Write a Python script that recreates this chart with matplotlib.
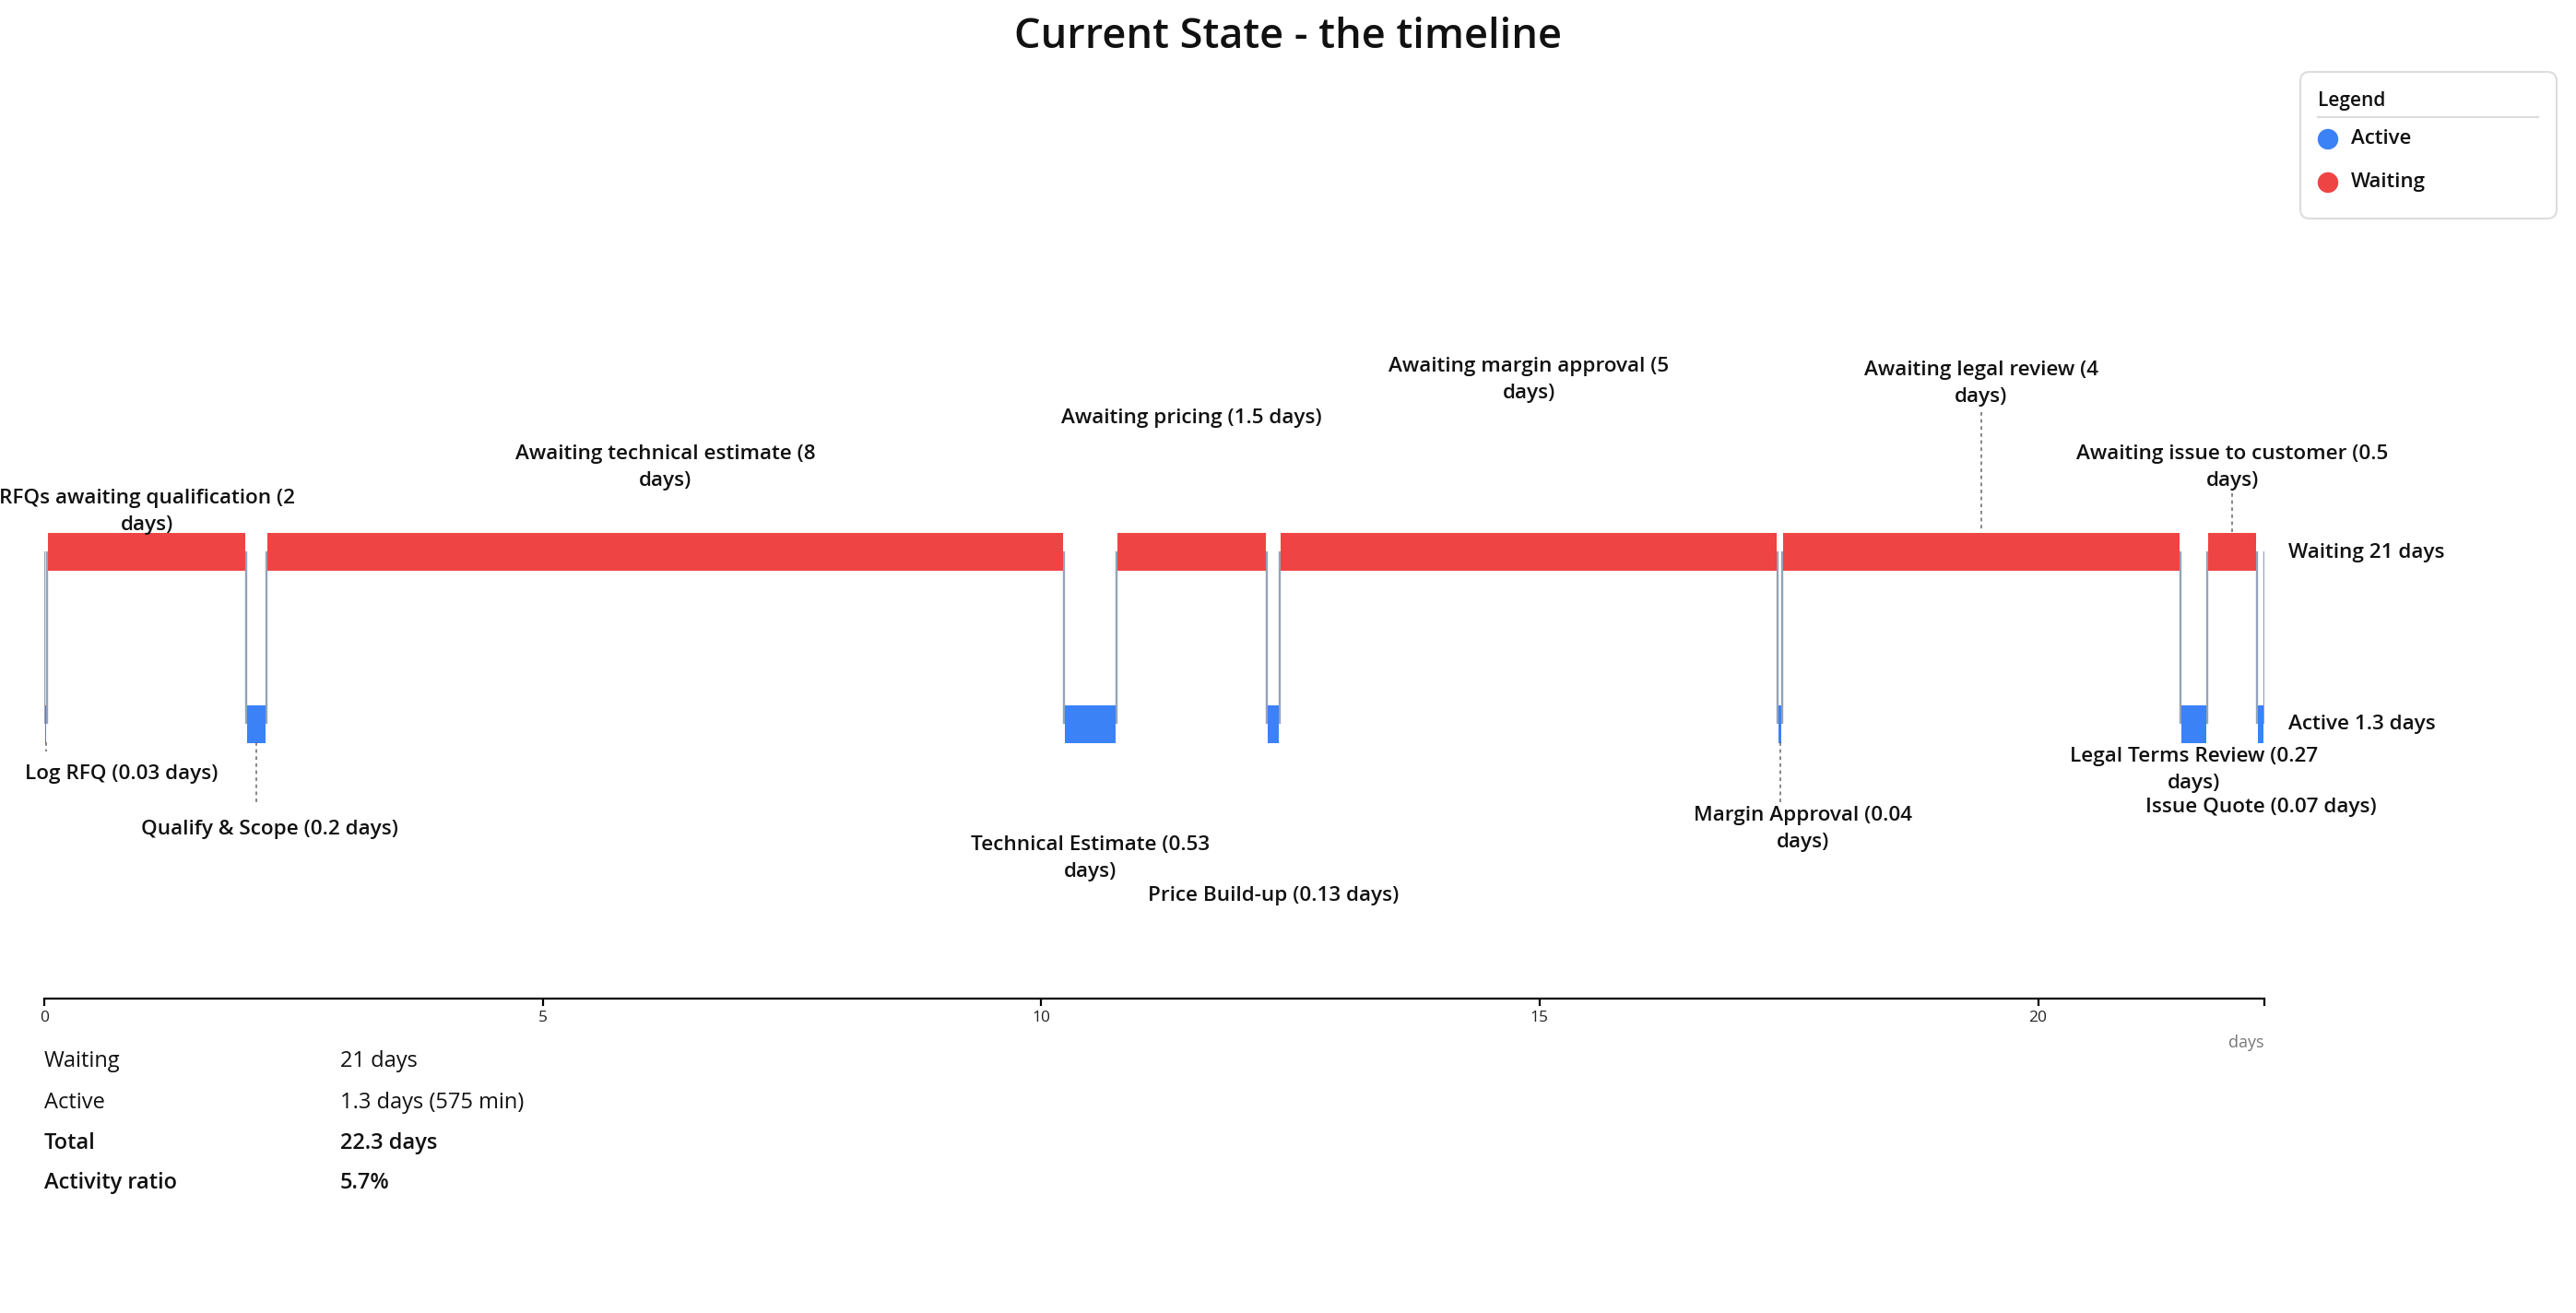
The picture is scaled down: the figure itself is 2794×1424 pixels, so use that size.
import matplotlib
matplotlib.use("Agg")
import matplotlib.pyplot as plt
from matplotlib.patches import FancyBboxPatch
import numpy as np

# ---------------- data ----------------
step_names = ["Log RFQ", "RFQs awaiting qualification", "Qualify & Scope",
              "Awaiting technical estimate", "Technical Estimate", "Awaiting pricing",
              "Price Build-up", "Awaiting margin approval", "Margin Approval",
              "Awaiting legal review", "Legal Terms Review",
              "Awaiting issue to customer", "Issue Quote"]
step_kinds = ["Active", "Waiting", "Active", "Waiting", "Active", "Waiting", "Active",
              "Waiting", "Active", "Waiting", "Active", "Waiting", "Active"]
step_days = [0.03, 2, 0.2, 8, 0.53, 1.5, 0.13, 5, 0.04, 4, 0.27, 0.5, 0.07]
step_day_labels = ["0.03", "2", "0.2", "8", "0.53", "1.5", "0.13", "5", "0.04", "4",
                   "0.27", "0.5", "0.07"]
lane_labels = {"Waiting": "Waiting 21 days", "Active": "Active 1.3 days"}
summary_names = ["Waiting", "Active", "Total", "Activity ratio"]
summary_values = ["21 days", "1.3 days (575 min)", "22.3 days", "5.7%"]
summary_bold = [False, False, True, True]
x_ticks = [0, 5, 10, 15, 20]
legend_items = ["Active", "Waiting"]
title = "Current State - the timeline"
axis_unit = "days"

# ---------------- layout / style ----------------
W, H = 2794, 1424
plt.rcParams["font.family"] = ["Open Sans", "DejaVu Sans"]
colors = {"Active": "#3B82F6", "Waiting": "#EF4444"}
lane_y = {"Waiting": 598, "Active": 785}
bar_h = 41
axis_y = 1083
x_left_px, x_right_px = 48, 2456
label_fs = 16.2
wrap_px = 293
# label placement (pixel rows of text centre, pixel x-shift), per step
label_y = [839, 555, 900, 507, 931, 453, 971, 412, 899, 416, 835, 507, 875]
label_dx = [82, 0, 14, 0, 0, 0, 0, 0, 25, 0, 0, 0, 0]
leaders = {0: (805, 815), 2: (805, 873), 8: (805, 870), 9: (447, 577), 11: (535, 577)}

fig = plt.figure(figsize=(W / 100, H / 100), dpi=100)
fig.patch.set_facecolor("white")

days = np.array(step_days)
starts = np.concatenate([[0], np.cumsum(days)[:-1]])
total = float(np.sum(days))

ax = fig.add_axes([x_left_px / W, 0, (x_right_px - x_left_px) / W, 1])
ax.set_xlim(0, total)
ax.set_ylim(H, 0)
ax.patch.set_alpha(0)
for s in ["top", "left", "right"]:
    ax.spines[s].set_visible(False)
ax.spines["bottom"].set_position(("data", axis_y))
ax.spines["bottom"].set_linewidth(1.6)
ax.set_yticks([])
ax.set_xticks(x_ticks + [total])
ax.set_xticklabels([str(t) for t in x_ticks] + [""], fontsize=12.5, color="#222222")
ax.tick_params(axis="x", direction="out", length=6, width=1.6, pad=3)

px_per_day = (x_right_px - x_left_px) / total
inset = 1.0 / px_per_day

# connectors at transitions
bounds = list(starts) + [total]
for b in bounds:
    ax.plot([b, b], [lane_y["Waiting"], lane_y["Active"]], color="#94A3B8",
            lw=1.7, zorder=1, solid_capstyle="butt")

# bars
for st, d, k in zip(starts, days, step_kinds):
    ax.barh(lane_y[k], d - 2 * inset, left=st + inset, height=bar_h,
            color=colors[k], zorder=2, linewidth=0)

# labels
fig.canvas.draw()
renderer = fig.canvas.get_renderer()
for i, (name, dl, st, d) in enumerate(zip(step_names, step_day_labels, starts, days)):
    txt = f"{name} ({dl} days)"
    mid = st + d / 2
    x = mid + label_dx[i] / px_per_day
    t = ax.text(x, label_y[i], txt, ha="center", va="center", fontsize=label_fs,
                fontweight="semibold", color="#111111", zorder=5,
                linespacing=1.55)
    wpx = t.get_window_extent(renderer).width
    if wpx > wrap_px:
        t.set_text(f"{name} ({dl}\ndays)")
    if name == "Issue Quote":
        t.set_bbox(dict(facecolor="white", edgecolor="none", pad=1))
    if i in leaders:
        y0, y1 = leaders[i]
        ax.plot([mid, mid], [y0, y1], color="#666666", lw=1.1,
                linestyle=(0, (2.5, 2.5)), zorder=3)

# overlay axes in pixel space
ox = fig.add_axes([0, 0, 1, 1])
ox.set_xlim(0, W)
ox.set_ylim(H, 0)
ox.axis("off")
ox.patch.set_alpha(0)

ox.text(W / 2, 40, title, ha="center", va="center", fontsize=32.5,
        fontweight="semibold", color="#111111")

for k in ["Waiting", "Active"]:
    ox.text(2482, lane_y[k] + 1, lane_labels[k], ha="left", va="center",
            fontsize=label_fs, fontweight="semibold", color="#111111")

ox.text(x_right_px, 1131, axis_unit, ha="right", va="center", fontsize=13,
        color="#777777")

row_y = [1151, 1196, 1240, 1283]
for nm, val, b, y in zip(summary_names, summary_values, summary_bold, row_y):
    fw = "semibold" if b else "normal"
    ox.text(48, y, nm, ha="left", va="center", fontsize=17, fontweight=fw,
            color="#111111")
    ox.text(369, y, val, ha="left", va="center", fontsize=17, fontweight=fw,
            color="#111111")

# legend box
box = FancyBboxPatch((2495, 78), 278, 159,
                     boxstyle="round,pad=0,rounding_size=10",
                     facecolor="white", edgecolor="#DDDDDD", lw=1.5)
ox.add_patch(box)
ox.text(2514, 110, "Legend", ha="left", va="center", fontsize=15,
        fontweight="semibold", color="#111111")
ox.plot([2514, 2753], [127, 127], color="#DDDDDD", lw=1.5)
for item, y in zip(legend_items, [151, 198]):
    ox.scatter([2525], [y], s=260, color=colors[item], edgecolors="none")
    ox.text(2550, y, item, ha="left", va="center", fontsize=16,
            fontweight="semibold", color="#111111")

fig.savefig("out.png", dpi=100, facecolor="white")
